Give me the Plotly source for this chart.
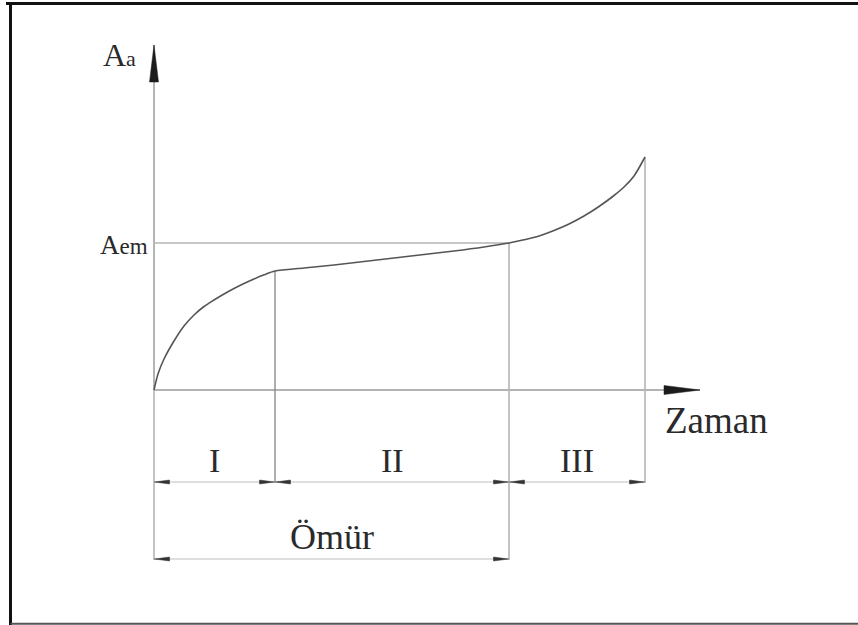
import plotly.graph_objects as go

# Stage boundaries on the time axis (I | II | III)
stage_bounds = [0.0, 1.21, 3.55, 4.91]
stage_labels = ["I", "II", "III"]
life_label = "Ömür"

# Creep-type wear curve A_a(t)
curve_t = [0.0, 0.04, 0.10, 0.20, 0.30, 0.40, 0.50, 0.60, 0.70, 0.80, 0.90,
           1.00, 1.10, 1.21,
           1.50, 1.80, 2.10, 2.40, 2.70, 3.00, 3.30, 3.55,
           3.70, 3.85, 4.00, 4.15, 4.30, 4.45, 4.60, 4.70, 4.80, 4.91]
curve_a = [0.0, 0.16, 0.31, 0.49, 0.64, 0.75, 0.835, 0.90, 0.96, 1.015, 1.065,
           1.11, 1.152, 1.19,
           1.22, 1.25, 1.285, 1.32, 1.355, 1.39, 1.43, 1.47,
           1.502, 1.54, 1.595, 1.66, 1.74, 1.835, 1.945, 2.03, 2.14, 2.33]

A_em = 1.47          # limit wear level
axis_t_end = 5.46    # end of the time axis arrow
axis_a_end = 3.45    # end of the wear axis arrow

# Dimension-line levels below the time axis
dim_stage = -0.92
dim_life = -1.69

AXIS = "#b4b4b4"
DIM = "#bdbdbd"
TXT = "#2a2a2a"
SERIF = "Liberation Serif, Times New Roman, serif"

fig = go.Figure()


def seg(x, y, color, width):
    fig.add_trace(go.Scatter(x=x, y=y, mode="lines", hoverinfo="skip",
                             line=dict(color=color, width=width)))


def head(tx, ty, ux, uy, length, half, color="#1c1c1c"):
    # filled triangle with its tip at (tx, ty) pointing along (ux, uy)
    bx, by = tx - ux * length, ty - uy * length
    px, py = -uy * half, ux * half
    fig.add_trace(go.Scatter(
        x=[tx, bx + px, bx - px, tx], y=[ty, by + py, by - py, ty],
        mode="lines", fill="toself", fillcolor=color,
        line=dict(color=color, width=0.5), hoverinfo="skip"))


t0, t1, t2, t3 = stage_bounds

def a_at(t):
    return curve_a[curve_t.index(t)]

# axes
seg([t0, axis_t_end], [0, 0], AXIS, 2)
seg([t0, t0], [0, axis_a_end], AXIS, 2)
head(t0, axis_a_end, 0, 1, 0.37, 0.045)
head(axis_t_end, 0, 1, 0, 0.36, 0.045)

# limit level A_em
seg([t0, t2], [A_em, A_em], AXIS, 1.6)

# extension lines
seg([t0, t0], [0, dim_life - 0.01], AXIS, 1.6)
seg([t1, t1], [a_at(t1), dim_stage - 0.01], "#8a8a8a", 1.4)
seg([t2, t2], [a_at(t2), dim_life - 0.01], AXIS, 1.6)
seg([t3, t3], [a_at(t3), dim_stage - 0.01], AXIS, 1.6)

# dimension lines with arrowheads
for (a, b), lab in zip(zip(stage_bounds[:-1], stage_bounds[1:]), stage_labels):
    seg([a, b], [dim_stage, dim_stage], DIM, 1.2)
    head(a + 0.005, dim_stage, -1, 0, 0.15, 0.02, "#333")
    head(b - 0.005, dim_stage, 1, 0, 0.15, 0.02, "#333")
    fig.add_annotation(x=(a + b) / 2, y=dim_stage + 0.22, text=lab,
                       showarrow=False, font=dict(family=SERIF, size=34, color=TXT))

seg([t0, t2], [dim_life, dim_life], DIM, 1.2)
head(t0 + 0.005, dim_life, -1, 0, 0.15, 0.02, "#333")
head(t2 - 0.005, dim_life, 1, 0, 0.15, 0.02, "#333")
fig.add_annotation(x=(t0 + t2) / 2, y=dim_life + 0.22, text=life_label,
                   showarrow=False, font=dict(family=SERIF, size=36, color=TXT))

# wear curve
fig.add_trace(go.Scatter(x=curve_t, y=curve_a, mode="lines", line_shape="spline",
                         line=dict(color="#555555", width=1.6, smoothing=0.8),
                         hoverinfo="skip"))

# axis titles
fig.add_annotation(x=t0 - 0.16, y=axis_a_end - 0.1, xanchor="right",
                   text="A<span style='font-size:22px'>a</span>",
                   showarrow=False, font=dict(family=SERIF, size=32, color=TXT))
fig.add_annotation(x=t0 - 0.04, y=A_em - 0.02, xanchor="right",
                   text="A<span style='font-size:23px'>em</span>",
                   showarrow=False, font=dict(family=SERIF, size=27, color=TXT))
fig.add_annotation(x=axis_t_end + 0.16, y=-0.3, text="Zaman",
                   showarrow=False, font=dict(family=SERIF, size=37, color=TXT))

# surrounding frame
fig.add_shape(type="line", xref="paper", yref="paper",
              x0=10.5 / 858, x1=10.5 / 858, y0=0, y1=1 - 3.5 / 625,
              line=dict(color="#111", width=3))
fig.add_shape(type="line", xref="paper", yref="paper",
              x0=6 / 858, x1=1, y0=1 - 3.5 / 625, y1=1 - 3.5 / 625,
              line=dict(color="#111", width=3))
fig.add_shape(type="line", xref="paper", yref="paper",
              x0=10.5 / 858, x1=1, y0=1.2 / 625, y1=1.2 / 625,
              line=dict(color="#555", width=2))

fig.update_layout(
    width=858, height=625, margin=dict(l=0, r=0, t=0, b=0),
    paper_bgcolor="white", plot_bgcolor="white", showlegend=False,
    xaxis=dict(range=[-1.54, 7.04], visible=False, fixedrange=True),
    yaxis=dict(range=[-2.35, 3.90], visible=False, fixedrange=True),
)

fig.write_html("out.html")
